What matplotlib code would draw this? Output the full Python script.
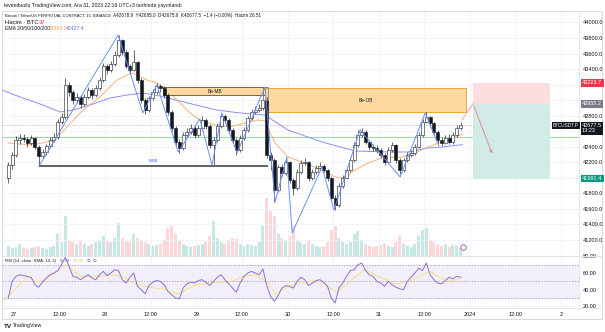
import numpy as np
import matplotlib.pyplot as plt
from matplotlib.patches import Rectangle
from matplotlib import transforms

plt.rcParams['font.family'] = ['Liberation Sans', 'DejaVu Sans']

# hourly bars, hour 0 = 27 Dec 2023 00:00 (UTC+3)
hours = np.arange(-2, 118)
first_open = 42000
closes = [42165, 42294, 42487, 42513, 42500, 42449, 42513, 42397, 42281, 42333,
          42410, 42487, 42526, 42719, 42783, 43195, 43105, 43002, 43041, 42951,
          43041, 43131, 43066, 43156, 43259, 43440, 43388, 43465, 43581, 43774,
          43620, 43440, 43388, 43491, 43259, 43002, 42873, 43028, 43105, 43182,
          43156, 43066, 42848, 42642, 42462, 42384, 42552, 42590, 42642, 42552,
          42642, 42745, 42667, 42423, 42487, 42667, 42796, 42745, 42616, 42487,
          42359, 42513, 42616, 42770, 42848, 42873, 42899, 43002, 42294, 42230,
          41844, 42140, 42062, 42204, 41972, 41870, 42075, 42191, 42204, 41998,
          42075, 42127, 42153, 42101, 41998, 41741, 41651, 41895, 41998, 42101,
          42230, 42423, 42552, 42590, 42462, 42397, 42384, 42359, 42294, 42204,
          42359, 42423, 42230, 42101, 42230, 42294, 42320, 42397, 42552, 42719,
          42783, 42706, 42590, 42487, 42449, 42513, 42462, 42552, 42642, 42677.5]
highs = [42200, 42330, 42540, 42560, 42570, 42530, 42550, 42530, 42420, 42370,
         42440, 42520, 42580, 42760, 42830, 43285, 43230, 43130, 43090, 43070,
         43080, 43170, 43160, 43200, 43300, 43480, 43470, 43510, 43630, 43839,
         43790, 43650, 43470, 43646, 43510, 43280, 43030, 43060, 43140, 43220,
         43210, 43180, 43090, 42870, 42670, 42500, 42590, 42640, 42690, 42670,
         42680, 42790, 42770, 42690, 42520, 42700, 42840, 42820, 42770, 42640,
         42510, 42550, 42650, 42800, 42890, 42920, 42950, 43169, 43040, 42330,
         42250, 42170, 42180, 42240, 42220, 42000, 42110, 42230, 42250, 42220,
         42110, 42170, 42200, 42180, 42120, 42020, 41780, 41930, 42040, 42140,
         42270, 42460, 42620, 42642, 42610, 42490, 42430, 42420, 42390, 42320,
         42400, 42460, 42440, 42260, 42260, 42330, 42360, 42430, 42590, 42760,
         42848, 42800, 42720, 42610, 42520, 42550, 42560, 42590, 42680, 42720]
lows = [41934, 42120, 42270, 42440, 42460, 42400, 42420, 42370, 42160, 42250,
        42300, 42380, 42460, 42500, 42690, 42760, 43060, 42950, 42960, 42900,
        42920, 43010, 43020, 43040, 43130, 43230, 43340, 43360, 43440, 43560,
        43580, 43410, 43340, 43370, 43220, 42960, 42822, 42850, 43000, 43080,
        43110, 43030, 42810, 42600, 42420, 42320, 42360, 42520, 42560, 42510,
        42520, 42620, 42630, 42380, 42165, 42460, 42640, 42700, 42580, 42450,
        42300, 42330, 42490, 42590, 42740, 42820, 42850, 42870, 42250, 42100,
        41689, 41820, 42020, 42040, 41930, 41779, 41850, 42050, 42160, 41960,
        41970, 42050, 42110, 42070, 41960, 41700, 41586, 41630, 41870, 41980,
        42080, 42200, 42400, 42520, 42430, 42360, 42340, 42320, 42260, 42170,
        42190, 42330, 42190, 42050, 42080, 42210, 42270, 42300, 42380, 42530,
        42700, 42660, 42550, 42450, 42410, 42430, 42430, 42440, 42530, 42620]
# hourly volume, hundreds of BTC
volume = [10, 8, 9, 12, 8, 7, 8, 9, 10, 8,
          7, 9, 10, 22, 14, 40, 16, 14, 12, 15,
          12, 10, 12, 14, 16, 20, 15, 14, 18, 33,
          18, 15, 14, 22, 18, 16, 14, 12, 10, 11,
          12, 16, 28, 30, 22, 16, 12, 10, 9, 10,
          11, 12, 14, 20, 35, 18, 14, 12, 15, 18,
          17, 12, 10, 12, 11, 10, 14, 30, 58, 45,
          40, 22, 18, 16, 20, 30, 16, 14, 12, 15,
          12, 10, 9, 10, 14, 26, 30, 18, 14, 12,
          14, 22, 25, 16, 12, 10, 9, 10, 11, 12,
          10, 9, 14, 20, 12, 10, 9, 12, 20, 26,
          28, 16, 14, 12, 10, 12, 9, 11, 10, 8]
rsi = [30, 50, 56, 58, 57, 56, 55, 46, 43, 49,
       54, 58, 60, 63, 70, 79, 68, 56, 55, 52,
       55, 58, 54, 52, 58, 62, 57, 60, 64, 63,
       52, 48, 55, 60, 44, 40, 35, 45, 49, 51,
       50, 46, 38, 34, 30, 29, 42, 47, 49, 48,
       51, 52, 49, 45, 50, 55, 58, 52, 47, 42,
       37, 48, 56, 60, 62, 60, 58, 65, 45, 32,
       26, 33, 42, 45, 44, 42, 50, 55, 52, 45,
       48, 51, 52, 49, 44, 30, 24, 42, 48, 56,
       63, 64, 70, 72, 63, 58, 56, 50, 48, 44,
       50, 46, 43, 41, 40, 50, 55, 60, 66, 63,
       72, 58, 52, 48, 47, 51, 55, 53, 56, 55.18]

rsi_sma_h = [-2.6, 1.3, 3.4, 6.5, 9.5, 13.6, 17.7, 21.8, 25.9, 29, 32, 35.1, 39.1,
             43.2, 47.3, 52.4, 56.5, 60.6, 63.6, 66.6, 68.8, 71.8, 75.9, 80, 83,
             85, 88.1, 92.2, 96.3, 100.4, 103.5, 107.5, 109.6, 112.6, 115.6, 118]
rsi_sma = [27, 45, 55, 49, 56, 70, 56, 56, 58, 55, 47, 43, 41,
           35, 45, 49, 49, 56, 58, 49, 35, 43, 49, 51, 43,
           37, 49, 64, 55, 47, 49, 58, 62, 53, 51, 55.02]

ema_fast_h = [-1.6, 5, 10.8, 13.9, 18.2, 22.6, 27.1, 29.7, 31.3, 35, 37.6, 40.3,
              43.7, 46.3, 48.9, 52.9, 56.8, 60.8, 64.2, 66, 68.7, 72.1, 76.6,
              81.05, 84.5, 87.1, 89.7, 93.2, 96.8, 102.1, 105.5, 108.9, 112.6, 118]
ema_fast = [42449, 42423, 42487, 42655, 42873, 43041, 43259, 43324, 43350, 43259,
            43221, 43131, 42963, 42835, 42745, 42680, 42655, 42706, 42745, 42732,
            42449, 42268, 42191, 42101, 42011, 41998, 42101, 42191, 42256, 42268,
            42320, 42397, 42462, 42563.5]
ema_slow_h = [-3.2, 1.6, 7.6, 12.1, 15.5, 20, 25.3, 29.7, 33.9, 38.4, 43.7, 48.9,
              53.4, 59.5, 66, 72.1, 81.05, 89.7, 98.4, 103.7, 108.9, 112.6, 118]
ema_slow = [43131, 43041, 42938, 42848, 42873, 42938, 43028, 43066, 43092, 43054,
            42989, 42925, 42873, 42835, 42809, 42616, 42462, 42346, 42333, 42333,
            42384, 42397, 42427.4]

# swing line drawn over the chart
swing_h = [6.6, 27.4, 33.9, 37.6, 43.2, 48.9, 52.1, 54.7, 58.7, 66.05, 68.7,
           71.8, 73.2, 81.05, 84.2, 91.05, 101.6, 108.2, 111.8]
swing_p = [42153, 43839, 42835, 43195, 42333, 42758, 42165, 42835, 42320, 43169,
           41689, 42268, 41290, 42140, 41586, 42616, 42011, 42835, 42410]

time_ticks = np.arange(0, 145, 12)
time_labels = ['27', '12:00', '28', '12:00', '29', '12:00', '30', '12:00',
               '31', '12:00', '2024', '12:00', '2']

stop_level, entry_level, target_level = 43223.7, 42955.2, 41991.4
last_price = 42677.5
support_level = 42526

W, H = 605, 332
fig = plt.figure(figsize=(W / 100, H / 100), dpi=100)


def fx(x):
    return x / W


def fy(y):
    return 1 - y / H


L, R, T, B, RB = 2, 579, 12, 256, 308
XMIN, XMAX = -3.16, 148.68

ax = fig.add_axes([fx(L), fy(B), fx(R) - fx(L), fy(T) - fy(B)])
axv = fig.add_axes([fx(L), fy(B), fx(R) - fx(L), fy(B - 66) - fy(B)])
ax_rsi = fig.add_axes([fx(L), fy(RB), fx(R) - fx(L), fy(B) - fy(RB)])
axv.set_zorder(1)
ax.set_zorder(2)
ax.patch.set_alpha(0)
axv.axis('off')

grid_c = '#f0f3fa'
for a in (ax, ax_rsi):
    a.set_xlim(XMIN, XMAX)
    a.set_xticks(time_ticks)
    a.grid(True, color=grid_c, lw=0.6)
    a.set_axisbelow(True)
    for s in ('top', 'left', 'bottom'):
        a.spines[s].set_visible(False)
    a.spines['right'].set_color('#e0e3eb')
    a.spines['right'].set_linewidth(0.6)
    a.yaxis.tick_right()
    a.tick_params(length=0, labelsize=4, labelcolor='#131722', pad=2.5)
ax.tick_params(axis='x', labelbottom=False)
ax_rsi.set_xticklabels(time_labels)
ax_rsi.tick_params(axis='x', pad=3)

# price pane; levels covered by the axis tags get no label
ax.set_ylim(40994, 44135)
yt = np.arange(41200, 44001, 200)
hidden = {42000, 42600, 43000, 43200}
ax.set_yticks(yt)
ax.set_yticklabels(['' if v in hidden else f'{v:.1f}' for v in yt])

x = hours + 0.5
closes = np.array(closes)
opens = np.r_[first_open, closes[:-1]]
highs = np.array(highs)
lows = np.array(lows)
up = closes >= opens

axv.set_xlim(XMIN, XMAX)
axv.set_ylim(0, 66)
axv.bar(x, volume, width=0.8, color=np.where(up, '#c6e8e2', '#fcd6d8'))

ax.axhline(support_level, color='#a5d6a7', lw=0.8, zorder=2)
ax.axhline(last_price, color='#9598a1', lw=0.5, ls=(0, (1, 1.5)), zorder=2)

ax.plot(ema_slow_h, ema_slow, color='#8c8ff2', lw=0.7, zorder=3)
ax.plot(ema_fast_h, ema_fast, color='#f7b27a', lw=0.7, zorder=3)

ax.vlines(x, lows, highs, color='#131722', lw=0.45, zorder=4)
ax.bar(x[up], closes[up] - opens[up], bottom=opens[up], width=0.75,
       color='white', edgecolor='#131722', lw=0.4, zorder=5)
ax.bar(x[~up], opens[~up] - closes[~up], bottom=closes[~up], width=0.75,
       color='#131722', edgecolor='#131722', lw=0.4, zorder=5)

ax.plot(swing_h, swing_p, color='#6b8ff2', lw=0.7, zorder=6)

# order blocks and structure break
ax.add_patch(Rectangle((39.2, 43066), 66.6 - 39.2, 43170 - 43066,
                       fc='#fdd9a0', ec='#7d6440', lw=0.7, zorder=3))
ax.text((39.2 + 66.6) / 2, 43118, 'Be-MB', fontsize=3.4, ha='center',
        va='center', color='#131722', zorder=7)
ax.add_patch(Rectangle((66.05, 42848), 118.9 - 66.05, 43156 - 42848,
                       fc='#fdd9a0', ec='#f0a43a', lw=0.7, zorder=3))
ax.text((66.05 + 118.9) / 2, 43002, 'Be-OB', fontsize=3.4, ha='center',
        va='center', color='#131722', zorder=7)
ax.add_patch(Rectangle((65.5, 43002), 1.3, 43169 - 43002,
                       fill=False, ec='#8a8a8a', lw=0.6, zorder=7))
ax.hlines(42153, 6.6, 66.8, color='#5d606b', lw=1.4, zorder=6)
ax.text(36.6, 42215, 'MSB', fontsize=3.2, ha='center', va='center',
        color='#2962ff', zorder=7)

# short position tool
ax.add_patch(Rectangle((120.8, entry_level), 20.25, stop_level - entry_level,
                       fc='#fcdde0', ec='none', zorder=2))
ax.add_patch(Rectangle((120.8, target_level), 20.25, entry_level - target_level,
                       fc='#d1ece7', ec='none', zorder=2))
ax.plot([117.9, 120.8], [42745, entry_level], color='#f2a0a6', lw=0.7, zorder=6)
ax.annotate('', xy=(126.05, 42281), xytext=(120.8, entry_level),
            arrowprops=dict(arrowstyle='-|>', color='#e88a90', lw=0.7,
                            mutation_scale=4), zorder=6)

ax.plot([118.2], [41110], marker='o', ms=4, mfc='white', mec='#ab47bc',
        mew=0.6, zorder=7, clip_on=False)

# price axis tags
tag_tr = transforms.blended_transform_factory(ax.transAxes, ax.transData)
lx = (582 - L) / (R - L)


def tag(price, text, fc, tc='white'):
    ax.text(lx, price, text, transform=tag_tr, fontsize=4, color=tc,
            ha='left', va='center', clip_on=False, zorder=10,
            bbox=dict(boxstyle='square,pad=0.25', fc=fc, ec='none'))


tag(stop_level, f'{stop_level:.1f}', '#f23645')
tag(entry_level, f'{entry_level:.1f}', '#787b86')
tag(target_level, f'{target_level:.1f}', '#089981')
ax.text(lx, 42640, f'{last_price:.1f}\n13:23', transform=tag_tr, fontsize=4,
        color='white', ha='left', va='center', linespacing=1.1, clip_on=False,
        zorder=10, bbox=dict(boxstyle='square,pad=0.25', fc='#131722', ec='none'))
ax.text((553 - L) / (R - L), last_price, 'BTCUSDT.P', transform=tag_tr,
        fontsize=3.3, color='white', ha='left', va='center', zorder=10,
        bbox=dict(boxstyle='square,pad=0.25', fc='#131722', ec='none'))

# RSI pane
ax_rsi.set_ylim(18, 80.5)
ax_rsi.set_yticks([20, 40, 60, 80])
ax_rsi.set_yticklabels(['20.00', '40.00', '60.00', '80.00'])
ax_rsi.axhspan(30, 70, color='#f3effa', zorder=0)
for lvl in (30, 50, 70):
    ax_rsi.axhline(lvl, color='#9598a1', lw=0.5, ls=(0, (2, 2)), zorder=1)
ax_rsi.plot(x, rsi, color='#8e6fd0', lw=0.7, zorder=3)
ax_rsi.plot(rsi_sma_h, rsi_sma, color='#f5df82', lw=0.7, zorder=2)

# frame and pane separators
fig.add_artist(Rectangle((fx(2), fy(319)), fx(602) - fx(2), fy(11) - fy(319),
                         fill=False, ec='#d1d4dc', lw=0.6,
                         transform=fig.transFigure))
fig.add_artist(plt.Line2D([fx(2), fx(602)], [fy(B), fy(B)], color='#e0e3eb',
                          lw=0.8, transform=fig.transFigure))
fig.add_artist(plt.Line2D([fx(2), fx(602)], [fy(RB), fy(RB)], color='#e0e3eb',
                          lw=0.6, transform=fig.transFigure))

# header and legends
dark = '#131722'
fig.text(fx(4), fy(5), 'leventbuzlu TradingView.com, Ara 31, 2023 22:16 UTC+3 '
         'tarihinde yayınlandı', fontsize=3.7, color=dark, va='center')
fig.text(fx(5), fy(15.5), 'Bitcoin / TetherUS PERPETUAL CONTRACT, 15, BINANCE',
         fontsize=2.9, color=dark, va='center')
fig.text(fx(113), fy(15.5), 'A42678.9  Y42685.0  D42675.9  K42677.5  '
         '−1.4 (−0.00%)  Hacim 26.51', fontsize=3.3, color=dark, va='center')
fig.text(fx(5), fy(22), 'Hacim · BTC', fontsize=4.2, color=dark, va='center')
fig.text(fx(39), fy(22), '37', fontsize=4.2, color='#f23645', va='center')
fig.text(fx(5), fy(28.5), 'EMA 20/50/100/200', fontsize=3.7, color=dark,
         va='center')
fig.text(fx(49), fy(28.5), '42563.5', fontsize=3.7, color='#f7a35c',
         va='center')
fig.text(fx(66), fy(28.5), '42427.4', fontsize=3.7, color='#5b6cf0',
         va='center')
fig.text(fx(5), fy(261), 'RSI (14, close, SMA, 14, 2)', fontsize=3.1,
         color=dark, va='center')
fig.text(fx(60), fy(261), '55.18', fontsize=3.1, color='#7e57c2', va='center')
fig.text(fx(74), fy(261), '55.02', fontsize=3.1, color='#e8c547', va='center')
fig.text(fx(87), fy(261), '∅  ∅', fontsize=3.1, color=dark, va='center')

fig.text(fx(4), fy(326), 'TV', fontsize=4.5, fontweight='bold', color=dark,
         va='center')
fig.text(fx(13), fy(326), 'TradingView', fontsize=3.8, color=dark, va='center')

fig.savefig('out.png', dpi=100, facecolor='white')
